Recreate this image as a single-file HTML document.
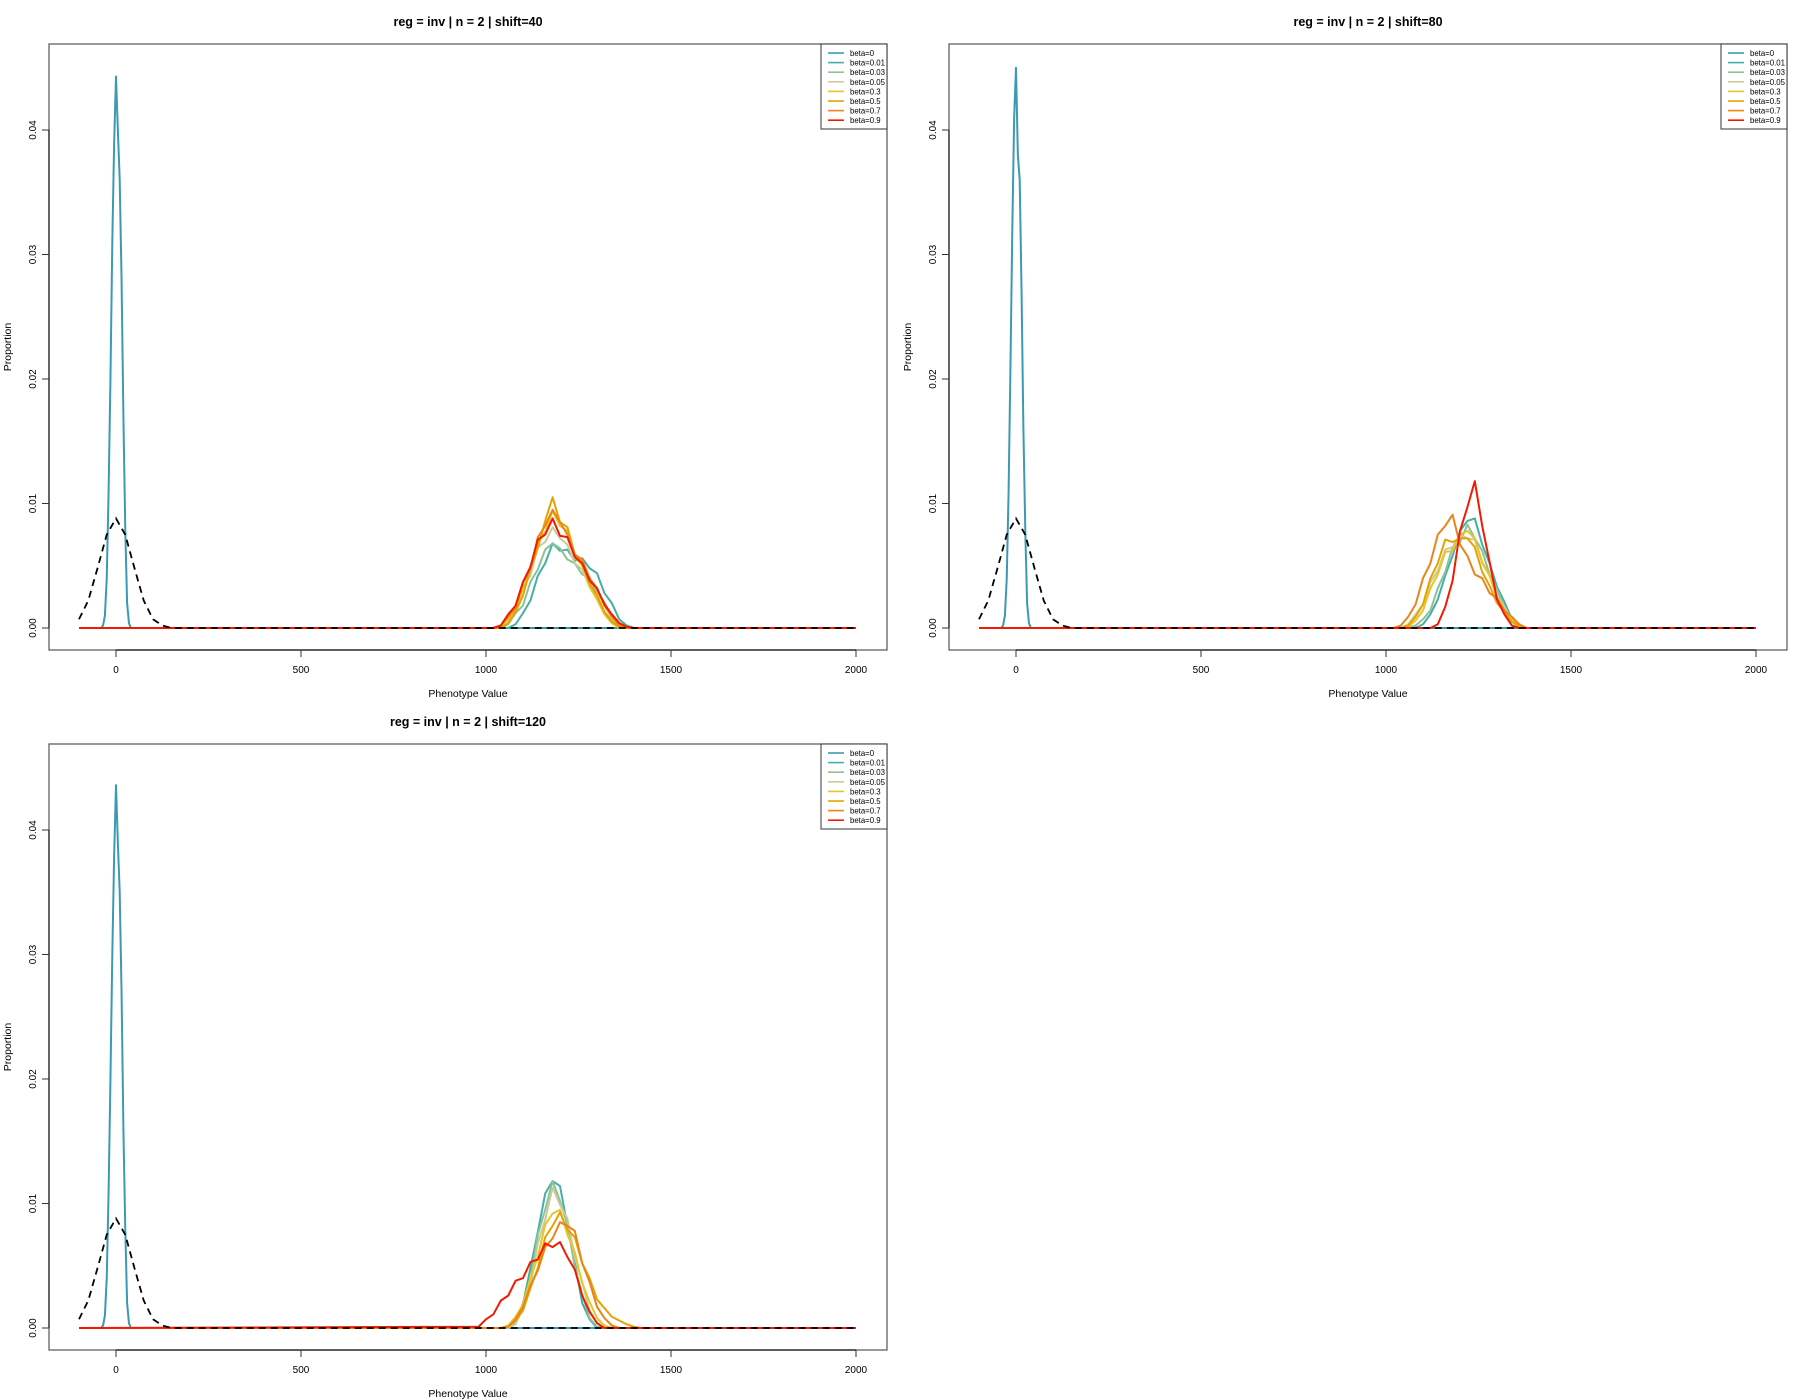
<!DOCTYPE html>
<html><head><meta charset="utf-8">
<style>
html,body{margin:0;padding:0;background:#fff;}
svg{display:block;font-family:"Liberation Sans",sans-serif;}
</style></head>
<body>
<svg id="chart" width="1800" height="1400" viewBox="0 0 1800 1400" xmlns="http://www.w3.org/2000/svg"></svg>
<script>
const titles = ["reg = inv | n = 2 | shift=40","reg = inv | n = 2 | shift=80","reg = inv | n = 2 | shift=120"];
const betaLabels = ["beta=0","beta=0.01","beta=0.03","beta=0.05","beta=0.3","beta=0.5","beta=0.7","beta=0.9"];
const xTicks = [0,500,1000,1500,2000];
const yTicks = [0,0.01,0.02,0.03,0.04];
const yTickLabels = ["0.00","0.01","0.02","0.03","0.04"];
const peakX = [980,1000,1020,1040,1060,1080,1100,1120,1140,1160,1180,1200,1220,1240,1260,1280,1300,1320,1340,1360,1380,1400,1420];
const narrowX = [-40,-35,-30,-25,-20,-15,-10,-5,0,5,10,15,20,25,30,35,40];
const narrowP1 = [0,0.0002,0.001,0.004,0.011,0.02,0.031,0.039,0.0443,0.040,0.036,0.028,0.017,0.008,0.002,0.0004,0];
const narrowP2 = [0,0.0002,0.001,0.004,0.011,0.021,0.032,0.041,0.0450,0.038,0.036,0.027,0.016,0.008,0.002,0.0004,0];
const narrowP3 = [0,0.0002,0.001,0.004,0.011,0.020,0.030,0.038,0.0436,0.039,0.035,0.027,0.016,0.008,0.002,0.0004,0];
const normX = [-100,-75,-50,-25,0,25,50,75,100,125,150,2000];
const normY = [0.0007,0.0022,0.0048,0.0075,0.0088,0.0075,0.0048,0.0022,0.0007,0.0002,0,0];
// panel 1 far peaks (beta 0.01..0.9)
const p1b001=[0,0,0,0,0,0.0003,0.0012,0.0022,0.0042,0.0052,0.0068,0.0062,0.0063,0.0054,0.0056,0.0048,0.0044,0.0028,0.002,0.0007,0.0002,0,0];
const p1b003=[0,0,0,0,0.0003,0.0012,0.0018,0.0037,0.0047,0.0063,0.0068,0.0064,0.0055,0.0052,0.0043,0.0041,0.0028,0.0021,0.0009,0.0003,0,0,0];
const p1b005=[0,0,0,0.0002,0.0009,0.0016,0.0033,0.0042,0.0065,0.0069,0.0081,0.0072,0.0067,0.0052,0.0047,0.0033,0.0027,0.0013,0.0007,0.0002,0,0,0];
const p1b03=[0,0,0,0.0001,0.0007,0.0014,0.0032,0.0046,0.0068,0.0077,0.0094,0.0082,0.0078,0.0057,0.005,0.0033,0.0023,0.0011,0.0004,0,0,0,0];
const p1b05=[0,0,0,0,0.0004,0.0013,0.0026,0.0048,0.0064,0.0086,0.0105,0.0085,0.0081,0.0059,0.0052,0.0036,0.0026,0.0013,0.0005,0.0001,0,0,0];
const p1b07=[0,0,0,0.0002,0.0009,0.0016,0.0037,0.0047,0.0073,0.0082,0.0095,0.0085,0.0075,0.0059,0.0055,0.004,0.0032,0.0018,0.0009,0.0002,0,0,0];
const p1b09=[0,0,0,0.0002,0.0011,0.0018,0.0037,0.0049,0.0071,0.0075,0.0088,0.0074,0.0073,0.0057,0.0052,0.0038,0.0032,0.0019,0.0011,0.0004,0.0001,0,0];
// panel 2
const p2b001=[0,0,0,0,0,0,0.0003,0.0011,0.0023,0.0042,0.0058,0.0078,0.0086,0.0088,0.0067,0.0052,0.0033,0.0021,0.0007,0.0002,0,0,0];
const p2b003=[0,0,0,0,0,0.0002,0.0007,0.0014,0.0032,0.0045,0.0065,0.0069,0.0083,0.0072,0.0062,0.0043,0.0031,0.0017,0.0007,0.0002,0,0,0];
const p2b005=[0,0,0,0,0.0003,0.0011,0.0019,0.0037,0.0046,0.0063,0.0065,0.0075,0.0072,0.0071,0.0052,0.0042,0.0026,0.0017,0.0006,0.0002,0,0,0];
const p2b03=[0,0,0,0,0.0001,0.0006,0.0014,0.0032,0.0043,0.0061,0.0062,0.0075,0.0078,0.0072,0.0053,0.0042,0.0024,0.0015,0.0005,0.0001,0,0,0];
const p2b05=[0,0,0,0,0.0002,0.0009,0.0019,0.004,0.0052,0.0071,0.0069,0.0072,0.0072,0.0065,0.0045,0.0034,0.002,0.0013,0.0005,0.0002,0,0,0];
const p2b07=[0,0,0,0.0002,0.0009,0.0019,0.004,0.0052,0.0075,0.0082,0.0091,0.0067,0.0058,0.0043,0.004,0.0028,0.0024,0.0014,0.0009,0.0003,0,0,0];
const p2b09=[0,0,0,0,0,0,0,0,0.0003,0.0017,0.0038,0.0078,0.0097,0.0118,0.0082,0.0053,0.0023,0.0011,0.0002,0,0,0,0];
// panel 3
const p3b001=[0,0,0,0,0,0.0006,0.0019,0.0048,0.0077,0.0108,0.0118,0.0114,0.0082,0.0053,0.002,0.0007,0,0,0,0,0,0,0];
const p3b003=[0,0,0,0,0,0.0004,0.002,0.0038,0.0075,0.0095,0.0118,0.0102,0.0083,0.0049,0.0027,0.0008,0.0001,0,0,0,0,0,0];
const p3b005=[0,0,0,0,0,0.0003,0.0016,0.0033,0.0068,0.0087,0.0113,0.0099,0.0088,0.0057,0.0037,0.0014,0.0004,0,0,0,0,0,0];
const p3b03=[0,0,0,0,0.0002,0.0009,0.0019,0.004,0.0057,0.0083,0.0092,0.0095,0.0075,0.0061,0.0036,0.0021,0.0008,0.0002,0,0,0,0,0];
const p3b05=[0,0,0,0,0.0001,0.0006,0.0014,0.0032,0.0048,0.0073,0.0082,0.0093,0.0079,0.0073,0.0052,0.004,0.0023,0.0016,0.0009,0.0006,0.0003,0.0001,0];
const p3b07=[0,0,0,0,0.0001,0.0007,0.0017,0.0034,0.0046,0.0065,0.0072,0.0085,0.0082,0.0078,0.0052,0.0037,0.0017,0.0008,0.0002,0,0,0,0];
const p3b09=[0.0001,0.0007,0.0011,0.0022,0.0026,0.0038,0.004,0.0053,0.0055,0.0068,0.0065,0.0069,0.0057,0.0047,0.0026,0.0013,0.0004,0,0,0,0,0,0];

const colors = ["#3B9AB2","#46AFA4","#8CC29A","#C8CC99","#E8C52A","#E6A300","#EB8418","#F21A00"];
const panels = [
  {ox:0, oy:0, title:titles[0], narrow:narrowP1, far:[p1b001,p1b003,p1b005,p1b03,p1b05,p1b07,p1b09]},
  {ox:900, oy:0, title:titles[1], narrow:narrowP2, far:[p2b001,p2b003,p2b005,p2b03,p2b05,p2b07,p2b09]},
  {ox:0, oy:700, title:titles[2], narrow:narrowP3, far:[p3b001,p3b003,p3b005,p3b03,p3b05,p3b07,p3b09]}
];
const NS="http://www.w3.org/2000/svg";
const svg=document.getElementById('chart');
function mk(tag,attrs,parent){const e=document.createElementNS(NS,tag);for(const k in attrs)e.setAttribute(k,attrs[k]);parent.appendChild(e);return e;}
const xs = x => 116 + x*0.37;
const ys = y => 628 - y*12450;
function pathFrom(xArr,yArr){return xArr.map((x,i)=>(i?'L':'M')+xs(x).toFixed(2)+','+ys(yArr[i]).toFixed(2)).join(' ');}

panels.forEach((p,pi)=>{
  const g=mk('g',{transform:`translate(${p.ox},${p.oy})`},svg);
  
  
  const t=mk('text',{x:468,y:26,'text-anchor':'middle','font-size':'12.5','font-weight':'bold',fill:'#000'},g);
  t.textContent=p.title;
  
  
  for(let s=0;s<8;s++){
    let xArr,yArr;
    if(s===0){xArr=[-100].concat(narrowX,[2000]);yArr=[0].concat(p.narrow,[0]);}
    else{xArr=[-100].concat(peakX,[2000]);yArr=[0].concat(p.far[s-1],[0]);}
    const l=mk('path',{d:pathFrom(xArr,yArr),fill:'none',stroke:colors[s],'stroke-width':'2','stroke-linejoin':'round'},g);
    
    
  }
  const n=mk('path',{d:pathFrom(normX,normY),fill:'none',stroke:'#000','stroke-width':'1.8','stroke-dasharray':'7,5'},g);
  
  
  const b=mk('rect',{x:49,y:44,width:838,height:606,fill:'none',stroke:'#555','stroke-width':'1.2'},g);
  
  
  const xa=mk('g',{},g);
  
  
  mk('line',{x1:xs(xTicks[0]),x2:xs(xTicks[xTicks.length-1]),y1:650,y2:650,stroke:'#333','stroke-width':'1.4'},xa);
  xTicks.forEach(v=>{
    mk('line',{x1:xs(v),x2:xs(v),y1:650,y2:657,stroke:'#333','stroke-width':'1'},xa);
    const tl=mk('text',{x:xs(v),y:673,'text-anchor':'middle','font-size':'10',fill:'#000'},xa);
    tl.textContent=String(v);
    
    
  });
  const xt=mk('text',{x:468,y:697,'text-anchor':'middle','font-size':'10.5',fill:'#000'},g);
  xt.textContent='Phenotype Value';
  
  
  const ya=mk('g',{},g);
  
  
  mk('line',{x1:49,x2:49,y1:ys(yTicks[0]),y2:ys(yTicks[yTicks.length-1]),stroke:'#333','stroke-width':'1.4'},ya);
  yTicks.forEach((v,i)=>{
    mk('line',{x1:42,x2:49,y1:ys(v),y2:ys(v),stroke:'#333','stroke-width':'1'},ya);
    const tl=mk('text',{x:36,y:ys(v),'text-anchor':'middle','font-size':'10',fill:'#000',transform:`rotate(-90 36 ${ys(v)})`},ya);
    tl.textContent=yTickLabels[i];
    
    
  });
  const yt=mk('text',{x:11,y:347,'text-anchor':'middle','font-size':'10.5',fill:'#000',transform:'rotate(-90 11 347)'},g);
  yt.textContent='Proportion';
  
  
  const lg=mk('g',{},g);
  
  
  mk('rect',{x:821,y:44,width:66,height:85,fill:'#fff',stroke:'#333','stroke-width':'1'},lg);
  betaLabels.forEach((lab,i)=>{
    const yy=53+i*9.6;
    const e=mk('g',{},lg);
    
    
    mk('line',{x1:828,x2:844,y1:yy,y2:yy,stroke:colors[i],'stroke-width':'1.6'},e);
    const tx=mk('text',{x:850,y:yy+3,'font-size':'7.8',fill:'#000'},e);
    tx.textContent=lab;
  });
});
</script>
</body></html>
